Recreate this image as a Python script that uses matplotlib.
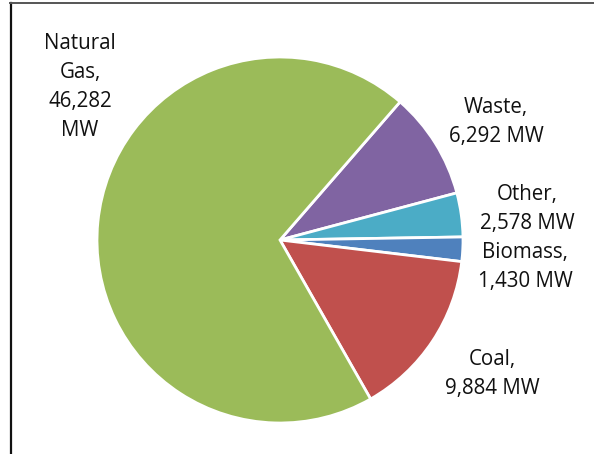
import matplotlib.pyplot as plt
from matplotlib.lines import Line2D

# Installed capacity by fuel, MW (clockwise from the Waste slice)
categories = ["Waste", "Other", "Biomass", "Coal", "Natural Gas"]
capacity_mw = [6292, 2578, 1430, 9884, 46282]
colors = ["#8064A2", "#4BACC6", "#4F81BD", "#C0504D", "#9BBB59"]

W, H = 594, 454

fig = plt.figure(figsize=(W / 100, H / 100), dpi=100)
ax = fig.add_axes([0, 0, 1, 1])

ax.pie(capacity_mw, colors=colors, startangle=49, counterclock=False,
       center=(280, H - 240), radius=183, frame=True,
       wedgeprops=dict(edgecolor="white", linewidth=2))
ax.set_xlim(0, W)
ax.set_ylim(0, H)
ax.set_aspect("equal")
ax.axis("off")

# Label text positions in pixels (x, y from top)
label_pos = {
    "Natural Gas": (80, 87),
    "Waste": (496, 122),
    "Other": (527, 209),
    "Biomass": (525, 267),
    "Coal": (492, 374),
}
for name, val in zip(categories, capacity_mw):
    if name == "Natural Gas":
        txt = "Natural\nGas,\n{:,}\nMW".format(val)
    else:
        txt = "{},\n{:,} MW".format(name, val)
    x, y = label_pos[name]
    ax.text(x, H - y, txt, ha="center", va="center", fontsize=14.8,
            family="Open Sans", color="#111111", linespacing=1.5)

# chart border (left and top edges visible)
fig.add_artist(Line2D([10.5 / W, 10.5 / W], [0, 1 - 3 / H], transform=fig.transFigure,
                      color="#111111", linewidth=1.6))
fig.add_artist(Line2D([10 / W, 1], [1 - 3 / H, 1 - 3 / H], transform=fig.transFigure,
                      color="#555555", linewidth=1.4))

fig.savefig("out.png", dpi=100)
